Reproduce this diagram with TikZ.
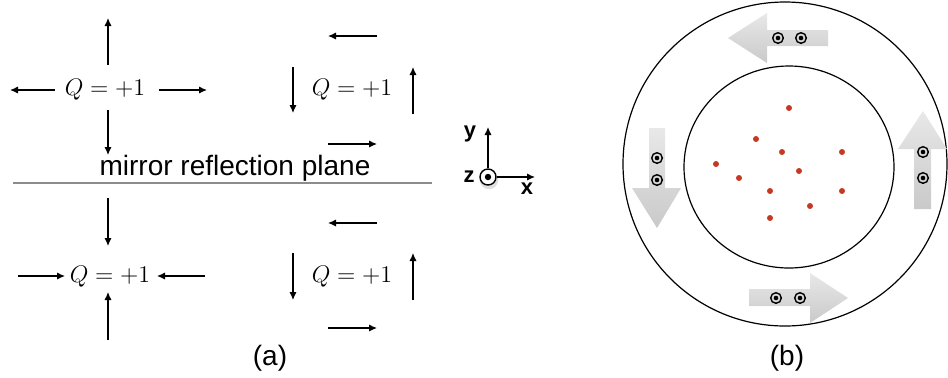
\documentclass[tikz,border=0pt]{standalone}
\usepackage{fontspec}
\usetikzlibrary{arrows.meta}
\newfontfamily\labelfont{Liberation Sans}
\definecolor{dotred}{RGB}{196,56,36}

\begin{document}
\begin{tikzpicture}[x=0.5pt, y=-0.5pt,
	vec/.style={semithick, -{Latex[length=4pt, width=3.6pt]}},
	qlabel/.style={font=\fontsize{12.7}{15}\selectfont, inner sep=0pt},
	caption/.style={font=\labelfont\fontsize{14}{17}\selectfont, inner sep=0pt},
	axlabel/.style={font=\labelfont\bfseries\fontsize{11}{13}\selectfont, inner sep=0pt},
	spin/.style={circle, draw, line width=0.7pt, inner sep=0pt, minimum size=5.3pt,
		path picture={\fill[black] (path picture bounding box.center) circle (1.15pt);}},
	bigarrow/.style={draw=none, top color=black!9, bottom color=black!21}]
	
	\useasboundingbox (0,0) rectangle (948,377);
	
	% (a) oben links
	\node[qlabel] (qa) at (105,90) {$Q=+1$};
	\draw[vec] (108,65) -- (108,18);
	\draw[vec] (108,110) -- (108,155);
	\draw[vec] (55,90) -- (10,90);
	\draw[vec] (159,90) -- (207,90);
	
	% (a) oben rechts
	\node[qlabel] (qb) at (352,90) {$Q=+1$};
	\draw[vec] (377,36) -- (328,36);
	\draw[vec] (328,144) -- (377,144);
	\draw[vec] (293,67) -- (293,113);
	\draw[vec] (413,114) -- (413,67);
	
	% Spiegelebene
	\node[caption, anchor=base] (plane) at (235,175) {mirror reflection plane};
	\draw[black!45, line width=0.55pt] (13,183) -- (432,183);
	
	% (a) unten links
	\node[qlabel] (qc) at (110,277) {$Q=+1$};
	\draw[vec] (108,198) -- (108,246);
	\draw[vec] (108,340) -- (108,292);
	\draw[vec] (18,276) -- (65,276);
	\draw[vec] (205,276) -- (157,276);
	
	% (a) unten rechts
	\node[qlabel] (qd) at (352,277) {$Q=+1$};
	\draw[vec] (377,223) -- (328,223);
	\draw[vec] (328,328) -- (377,328);
	\draw[vec] (293,253) -- (293,300);
	\draw[vec] (413,300) -- (413,253);
	
	\node[caption] (capa) at (270,358) {(a)};
	
	% Achsen
	\fill[black!25, opacity=0.5] (489,180) circle (4.6pt);
	\node[circle, draw, line width=0.7pt, fill=white, inner sep=0pt, minimum size=8pt,
		path picture={\fill[black] (path picture bounding box.center) circle (1.6pt);}] (o) at (488,177) {};
	\coordinate (ytip) at (488,127);
	\coordinate (xtip) at (535,177);
	\draw[vec] (o) -- (ytip);
	\draw[vec] (o) -- (xtip);
	\node[axlabel] (ly) at (470,134) {y};
	\node[axlabel] (lz) at (469,177) {z};
	\node[axlabel] (lx) at (527,189) {x};
	
	% (b) Kreise
	\draw[line width=0.6pt] (785,164) circle (81pt);
	\draw[line width=0.6pt] (789,167) ellipse (52.5pt and 50.5pt);
	
	% rote Punkte
	\foreach \px/\py in {789/108, 756/139, 782/152, 842/152, 716/164, 799/171,
		739/178, 770/191, 842/191, 810/206, 770/218}
		\fill[dotred] (\px,\py) circle (1.5pt);
	
	% graue Pfeile
	\path[bigarrow] (828,30) -- (767,30) -- (767,13) -- (728,38) -- (767,63)
		-- (767,46) -- (828,46) -- cycle;
	\path[bigarrow] (749,289) -- (810,289) -- (810,273) -- (848,298) -- (810,323)
		-- (810,306) -- (749,306) -- cycle;
	\path[bigarrow] (649,128) -- (649,188) -- (632,188) -- (657,228) -- (681,188)
		-- (665,188) -- (665,128) -- cycle;
	\path[bigarrow] (914,209) -- (914,149) -- (898,149) -- (923,111) -- (947,149)
		-- (931,149) -- (931,209) -- cycle;
	
	\node[spin] (t1) at (778,38) {};
	\node[spin] (t2) at (801,38) {};
	\node[spin] (b1) at (776,298) {};
	\node[spin] (b2) at (800,298) {};
	\node[spin] (l1) at (657,158) {};
	\node[spin] (l2) at (657,180) {};
	\node[spin] (r1) at (923,152) {};
	\node[spin] (r2) at (923,178) {};
	
	\node[caption] (capb) at (787,358) {(b)};
\end{tikzpicture}
\end{document}
